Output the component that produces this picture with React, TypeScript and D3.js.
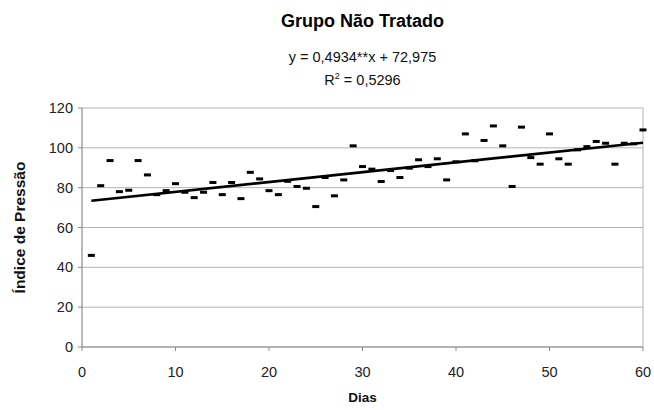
import React from "react";
import * as d3 from "d3";

const days: number[] = [
  1, 2, 3, 4, 5, 6, 7, 8, 9, 10, 11, 12, 13, 14, 15, 16, 17, 18, 19, 20,
  21, 22, 23, 24, 25, 26, 27, 28, 29, 30, 31, 32, 33, 34, 35, 36, 37, 38, 39, 40,
  41, 42, 43, 44, 45, 46, 47, 48, 49, 50, 51, 52, 53, 54, 55, 56, 57, 58, 59, 60,
];
const pressure: number[] = [
  46, 81, 93.6, 78, 78.7, 93.6, 86.4, 76.5, 78.5, 82, 77.7, 75, 77.7, 82.6, 76.5, 82.6, 74.5, 87.7, 84.4, 78.5,
  76.5, 83.2, 80.6, 79.7, 70.5, 85.1, 75.9, 83.9, 101, 90.6, 89.3, 83.1, 88.6, 85.1, 89.8, 94, 90.6, 94.5, 83.9, 93,
  107, 93.5, 103.7, 111, 101, 80.6, 110.4, 95.1, 91.8, 107, 94.5, 91.8, 99, 100.6, 103.2, 102.3, 91.8, 102.3, 102, 109,
];
const xTicks: number[] = [0, 10, 20, 30, 40, 50, 60];
const yTicks: number[] = [0, 20, 40, 60, 80, 100, 120];
const slope = 0.4934;
const intercept = 72.975;
const title = "Grupo Não Tratado";
const equation = "y = 0,4934**x + 72,975";
const r2Value = " = 0,5296";
const xTitle = "Dias";
const yTitle = "Índice de Pressão";

export default function App() {
  const W = 654;
  const H = 410;
  const left = 82;
  const right = 643;
  const top = 108;
  const bottom = 347;
  const x = d3.scaleLinear().domain([0, 60]).range([left, right]);
  const y = d3.scaleLinear().domain([0, 120]).range([bottom, top]);
  const font = "'Liberation Sans', Arial, sans-serif";
  const cx = (left + right) / 2;
  const line = d3
    .line<number>()
    .x((d) => x(d))
    .y((d) => y(slope * d + intercept));
  const lineDays = [days[0], days[days.length - 1]];

  return (
    <svg
      width={W}
      height={H}
      style={{ position: "absolute", left: 0, top: 0, background: "#fff" }}
      fontFamily={font}
    >
      <rect x={0} y={0} width={W} height={H} fill="#fff" />
      {yTicks.map((t) => (
        <line key={"g" + t} x1={left} x2={right} y1={y(t)} y2={y(t)} stroke="#b4b4b4" strokeWidth={1} />
      ))}
      <line x1={right} x2={right} y1={top} y2={bottom} stroke="#b4b4b4" strokeWidth={1} />
      <line x1={left} x2={left} y1={top} y2={bottom} stroke="#8c8c8c" strokeWidth={1.2} />
      <line x1={left} x2={right} y1={bottom} y2={bottom} stroke="#8c8c8c" strokeWidth={1.2} />
      {yTicks.map((t) => (
        <g key={"yt" + t}>
          <line x1={left - 4} x2={left} y1={y(t)} y2={y(t)} stroke="#8c8c8c" />
          <text x={left - 9} y={y(t)} dy="0.35em" textAnchor="end" fontSize={14.5} fill="#222">
            {t}
          </text>
        </g>
      ))}
      {xTicks.map((t) => (
        <g key={"xt" + t}>
          <line x1={x(t)} x2={x(t)} y1={bottom} y2={bottom + 4} stroke="#8c8c8c" />
          <text x={x(t)} y={bottom + 30} textAnchor="middle" fontSize={14.5} fill="#222">
            {t}
          </text>
        </g>
      ))}
      {days.map((d, i) => (
        <rect
          key={"p" + i}
          x={x(d) - 3.5}
          y={y(pressure[i]) - 1.5}
          width={7}
          height={3}
          fill="#000"
        />
      ))}
      <path d={line(lineDays) || ""} stroke="#000" strokeWidth={2.6} fill="none" />
      <text x={cx} y={27} textAnchor="middle" fontSize={18} fontWeight="bold" fill="#000">
        {title}
      </text>
      <text x={cx} y={62} textAnchor="middle" fontSize={14.5} fill="#111">
        {equation}
      </text>
      <text x={cx} y={85} textAnchor="middle" fontSize={14.5} fill="#111">
        R<tspan dy={-6} fontSize={9}>2</tspan>
        <tspan dy={6}>{r2Value}</tspan>
      </text>
      <text x={cx} y={402} textAnchor="middle" fontSize={13.5} fontWeight="bold" fill="#111">
        {xTitle}
      </text>
      <text
        transform={`translate(25, ${(top + bottom) / 2}) rotate(-90)`}
        textAnchor="middle"
        fontSize={15.5}
        fontWeight="bold"
        fill="#111"
      >
        {yTitle}
      </text>
    </svg>
  );
}
